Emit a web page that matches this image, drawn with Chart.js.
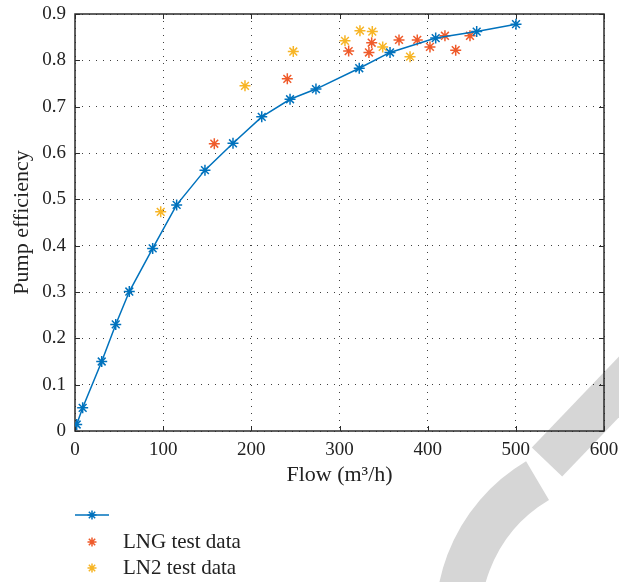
<!DOCTYPE html>
<html>
<head>
<meta charset="utf-8">
<script src="https://cdn.jsdelivr.net/npm/chart.js@4/dist/chart.umd.min.js"></script>
<style>
  html, body { margin: 0; padding: 0; background: #fff; }
  #wrap { width: 619px; height: 582px; }
</style>
</head>
<body>
<div id="wrap"><canvas id="chart" width="619" height="582"></canvas></div>
<script>
// Données
const flowModel = [1.9, 8.7, 30.3, 46.2, 61.6, 88.1, 115.3, 147.4, 179.2, 211.8, 243.9, 273.3, 322.4, 357.3, 409.1, 455.6, 500.2];
const effModel  = [0.014, 0.050, 0.150, 0.230, 0.301, 0.394, 0.488, 0.563, 0.621, 0.678, 0.716, 0.738, 0.783, 0.817, 0.848, 0.862, 0.878];

const flowLNG = [158, 240.8, 310.4, 333.4, 336.5, 367.5, 388.2, 402.6, 419.6, 431.8, 448];
const effLNG  = [0.620, 0.760, 0.820, 0.817, 0.838, 0.844, 0.844, 0.829, 0.853, 0.822, 0.853];

const flowLN2 = [97.2, 192.8, 247.6, 306.2, 323.2, 337.2, 349, 380];
const effLN2  = [0.473, 0.745, 0.819, 0.842, 0.864, 0.862, 0.829, 0.808];

const legendLabels = ['', 'LNG test data', 'LN2 test data'];
const xTicks = [0, 100, 200, 300, 400, 500, 600];
const yTicks = [0, 0.1, 0.2, 0.3, 0.4, 0.5, 0.6, 0.7, 0.8, 0.9];

const BLUE = '#0072BD';
const ORANGE = '#EF5B2B';
const YELLOW = '#F7B526';
const SERIF = '"Liberation Serif", "Times New Roman", serif';

function toPoints(xs, ys) {
    return xs.map((x, i) => ({ x: x, y: ys[i] }));
}

// Fond blanc + filigrane gris
const backgroundPlugin = {
    id: 'background',
    beforeDraw(chart) {
        const ctx = chart.ctx;
        ctx.save();
        ctx.fillStyle = '#fff';
        ctx.fillRect(0, 0, chart.width, chart.height);
        ctx.strokeStyle = '#d6d6d6';
        ctx.lineCap = 'butt';
        ctx.lineWidth = 45;
        ctx.beginPath();
        ctx.arc(620, 620, 162, Math.PI * 0.9, Math.PI * 1.33);
        ctx.stroke();
        ctx.lineWidth = 42;
        ctx.beginPath();
        ctx.moveTo(547, 462);
        ctx.lineTo(680, 323);
        ctx.stroke();
        ctx.restore();
    }
};

// Cadre avec graduations vers l'intérieur (style MATLAB)
const framePlugin = {
    id: 'frame',
    beforeDatasetsDraw(chart) {
        const { ctx, chartArea: a, scales } = chart;
        ctx.save();
        ctx.strokeStyle = '#2b2b2b';
        ctx.lineWidth = 1.5;
        ctx.strokeRect(a.left, a.top, a.right - a.left, a.bottom - a.top);
        ctx.lineWidth = 1;
        ctx.beginPath();
        xTicks.forEach(v => {
            const px = Math.round(scales.x.getPixelForValue(v)) + 0.5;
            ctx.moveTo(px, a.bottom); ctx.lineTo(px, a.bottom - 5);
            ctx.moveTo(px, a.top); ctx.lineTo(px, a.top + 5);
        });
        yTicks.forEach(v => {
            const py = Math.round(scales.y.getPixelForValue(v)) + 0.5;
            ctx.moveTo(a.left, py); ctx.lineTo(a.left + 5, py);
            ctx.moveTo(a.right, py); ctx.lineTo(a.right - 5, py);
        });
        ctx.stroke();
        ctx.restore();
    }
};

// Légende sous le graphique
const legendPlugin = {
    id: 'customLegend',
    afterDraw(chart) {
        const ctx = chart.ctx;
        const x0 = 75, rows = [515, 542, 568];
        ctx.save();
        chart.data.datasets.forEach((ds, i) => {
            const y = rows[i];
            ctx.strokeStyle = ds.borderColor;
            if (ds.showLine) {
                ctx.lineWidth = 1.5;
                ctx.beginPath();
                ctx.moveTo(x0, y); ctx.lineTo(x0 + 34, y);
                ctx.stroke();
            }
            Chart.helpers.drawPoint(ctx, { pointStyle: 'star', radius: 4.5, borderWidth: 1.5, rotation: 0 }, x0 + 17, y);
            ctx.fillStyle = '#222';
            ctx.font = '21px ' + SERIF;
            ctx.textBaseline = 'middle';
            ctx.fillText(legendLabels[i], 123, y);
        });
        ctx.restore();
    }
};

const starStyle = { pointStyle: 'star', pointRadius: 5.5, pointBorderWidth: 1.5 };

new Chart(document.getElementById('chart').getContext('2d'), {
    type: 'scatter',
    data: {
        datasets: [
            Object.assign({
                label: legendLabels[0],
                data: toPoints(flowModel, effModel),
                showLine: true,
                borderColor: BLUE,
                backgroundColor: BLUE,
                borderWidth: 1.5,
                tension: 0
            }, starStyle),
            Object.assign({
                label: legendLabels[1],
                data: toPoints(flowLNG, effLNG),
                borderColor: ORANGE,
                backgroundColor: ORANGE
            }, starStyle),
            Object.assign({
                label: legendLabels[2],
                data: toPoints(flowLN2, effLN2),
                borderColor: YELLOW,
                backgroundColor: YELLOW
            }, starStyle)
        ]
    },
    options: {
        responsive: false,
        animation: false,
        layout: { padding: { top: 14, right: 15, bottom: 91, left: 0 } },
        plugins: { legend: { display: false }, tooltip: { enabled: false } },
        scales: {
            x: {
                type: 'linear',
                min: 0, max: 600,
                afterFit(scale) {
                    scale.height = 60;
                    scale.paddingLeft = 0;
                    scale.paddingRight = 0;
                },
                afterBuildTicks(scale) { scale.ticks = xTicks.map(v => ({ value: v })); },
                grid: { color: 'rgba(0,0,0,0.75)', lineWidth: 1, drawTicks: false },
                border: { display: false, dash: [1, 6] },
                ticks: { color: '#222', padding: 8, font: { family: SERIF, size: 19 }, maxRotation: 0 },
                title: { display: true, text: 'Flow (m³/h)', color: '#222', font: { family: SERIF, size: 22 }, padding: { top: 0, bottom: 3 } }
            },
            y: {
                type: 'linear',
                min: 0, max: 0.9,
                afterFit(scale) {
                    scale.width = 75;
                    scale.paddingTop = 0;
                    scale.paddingBottom = 0;
                },
                afterBuildTicks(scale) { scale.ticks = yTicks.map(v => ({ value: v })); },
                grid: { color: 'rgba(0,0,0,0.75)', lineWidth: 1, drawTicks: false },
                border: { display: false, dash: [1, 6] },
                ticks: {
                    color: '#222', padding: 9, font: { family: SERIF, size: 19 },
                    callback: v => String(Math.round(v * 10) / 10)
                },
                title: { display: true, text: 'Pump efficiency', color: '#222', font: { family: SERIF, size: 22 }, padding: { top: 9, bottom: 0 } }
            }
        }
    },
    plugins: [backgroundPlugin, framePlugin, legendPlugin]
});
</script>
</body>
</html>
